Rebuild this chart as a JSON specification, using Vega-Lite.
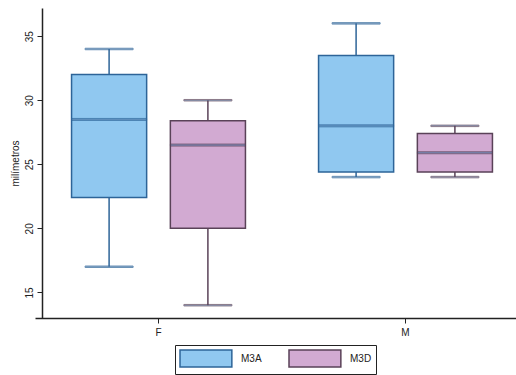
{
  "$schema": "https://vega.github.io/schema/vega-lite/v6.json",
  "autosize": {"type": "none"},
  "padding": {"left": 42, "top": 8, "right": 0, "bottom": 57},
  "width": 474,
  "height": 310,
  "background": "white",
  "config": {
    "view": {"stroke": null},
    "font": "Liberation Sans",
    "axis": {"grid": false, "domainColor": "#222", "tickColor": "#222", "labelColor": "#222", "titleColor": "#222", "labelFontSize": 10, "titleFontSize": 10, "titleFontWeight": "normal"}
  },
  "data": {
    "values": [
      {"grupo": "F", "serie": "M3A", "min": 17, "q1": 22.4, "median": 28.5, "q3": 32, "max": 34},
      {"grupo": "F", "serie": "M3D", "min": 14, "q1": 20, "median": 26.5, "q3": 28.4, "max": 30},
      {"grupo": "M", "serie": "M3A", "min": 24, "q1": 24.4, "median": 28, "q3": 33.5, "max": 36},
      {"grupo": "M", "serie": "M3D", "min": 24, "q1": 24.4, "median": 25.9, "q3": 27.4, "max": 28}
    ]
  },
  "encoding": {
    "x": {"field": "grupo", "type": "nominal", "scale": {"range": [-7, 487], "paddingInner": 0, "paddingOuter": 0},
          "axis": {"title": null, "labelAngle": 0, "labelPadding": 4, "tickSize": 5, "domainWidth": 1.5}},
    "xOffset": {"field": "serie", "type": "nominal", "scale": {"paddingInner": 0.24, "paddingOuter": 0.37}}
  },
  "layer": [
    {
      "mark": {"type": "rule", "strokeWidth": 1.5},
      "encoding": {
        "y": {"field": "min", "type": "quantitative", "scale": {"domain": [13, 37.2], "nice": false, "zero": false},
              "axis": {"title": "milímetros", "values": [15, 20, 25, 30, 35], "labelAngle": -90, "labelAlign": "center", "labelBaseline": "bottom", "labelPadding": 3, "tickSize": 5, "titlePadding": 4, "domainWidth": 1.5}},
        "y2": {"field": "max"},
        "stroke": {"field": "serie", "type": "nominal", "scale": {"domain": ["M3A", "M3D"], "range": ["#2D6498", "#5A4258"]}}
      }
    },
    {
      "mark": {"type": "tick", "size": 48, "thickness": 1.5},
      "encoding": {
        "y": {"field": "min", "type": "quantitative"},
        "stroke": {"field": "serie", "type": "nominal"}
      }
    },
    {
      "mark": {"type": "tick", "size": 48, "thickness": 1.5},
      "encoding": {
        "y": {"field": "max", "type": "quantitative"},
        "stroke": {"field": "serie", "type": "nominal"}
      }
    },
    {
      "mark": {"type": "bar", "strokeWidth": 1.5, "width": {"band": 1}},
      "encoding": {
        "y": {"field": "q1", "type": "quantitative"},
        "y2": {"field": "q3"},
        "fill": {"field": "serie", "type": "nominal", "scale": {"domain": ["M3A", "M3D"], "range": ["#90C8F0", "#D2AAD2"]},
                 "legend": {"title": null, "orient": "none", "legendX": 133, "legendY": 337, "direction": "horizontal",
                            "symbolType": "M-1,-1H5.1V1H-1Z", "symbolSize": 289, "symbolStrokeWidth": 1.5, "symbolOpacity": 1,
                            "labelFontSize": 10, "labelColor": "#222", "labelOffset": 43, "columnPadding": 24,
                            "strokeColor": "#222", "padding": 4, "cornerRadius": 0,
                            "encode": {"symbols": {"update": {"opacity": {"value": 1}, "fillOpacity": {"value": 1}}}}}},
        "stroke": {"field": "serie", "type": "nominal"}
      }
    },
    {
      "mark": {"type": "tick", "size": 75, "thickness": 2},
      "encoding": {
        "y": {"field": "median", "type": "quantitative"},
        "stroke": {"field": "serie", "type": "nominal"}
      }
    }
  ]
}
